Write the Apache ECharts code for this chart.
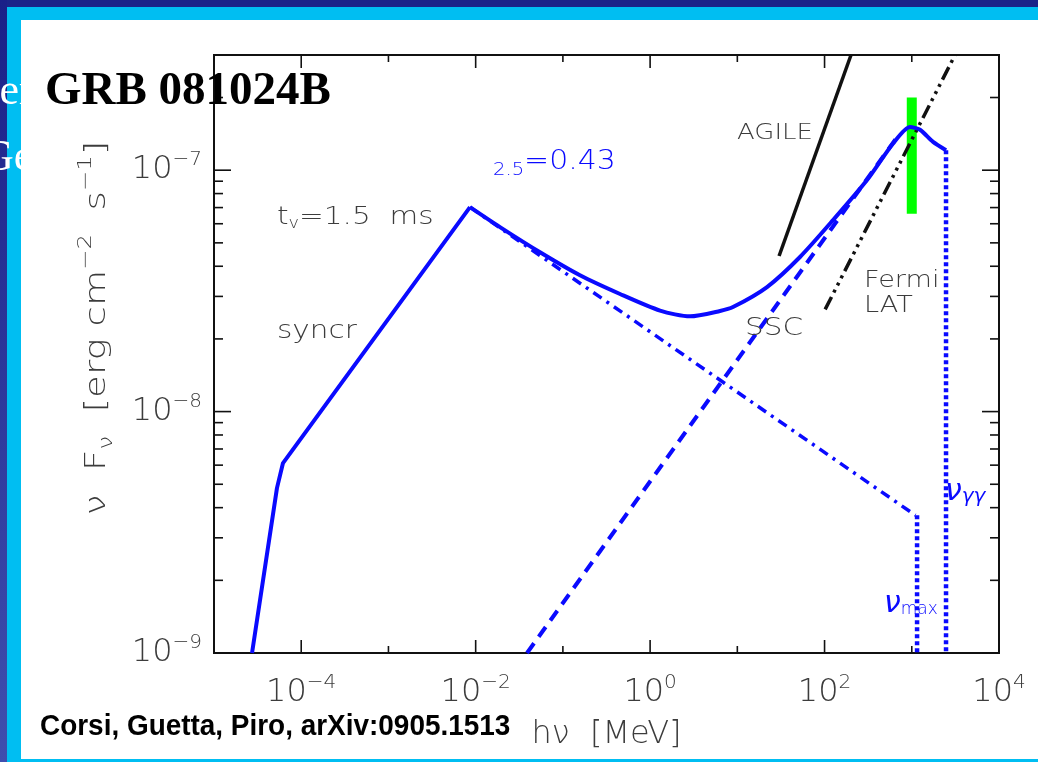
<!DOCTYPE html>
<html><head><meta charset="utf-8">
<script src="https://cdn.jsdelivr.net/npm/echarts@6/dist/echarts.min.js"></script>
<style>
html,body{margin:0;padding:0;width:1038px;height:762px;overflow:hidden;background:#fff;}
.b{position:absolute;}
#chart{position:absolute;left:0;top:0;width:1038px;height:762px;}
</style></head><body>
<div class="b" style="left:0;top:0;width:1038px;height:7px;background:#1b2488"></div>
<div class="b" style="left:0;top:0;width:7px;height:762px;background:linear-gradient(#1a2088,#3f4fae)"></div>
<div class="b" style="left:7px;top:7px;width:1031px;height:13px;background:#00bef2"></div>
<div class="b" style="left:7px;top:7px;width:14px;height:755px;background:#00bef2"></div>
<div class="b" style="left:7px;top:759px;width:1031px;height:3px;background:#00bef2"></div>
<div id="chart"></div>
<script>
// ---- data (hν in MeV, νFν in erg cm^-2 s^-1) ----
// total spectrum: rising synchrotron part (straight segments) ...
const riseE = [2.73e-5, 5.27e-5, 6.18e-5, 8.61e-3];
const riseF = [1e-9, 4.82e-9, 6.12e-9, 7.03e-8];
// ... and curved part from the synchrotron peak to the γγ cutoff
const curveE = [8.61e-3, 0.0190, 0.0547, 0.157, 0.452, 1.30, 2.87, 6.33, 8.92, 21.9, 52.3, 125, 307, 610, 955, 1242, 1754, 2470];
const curveF = [7.03e-8, 5.81e-8, 4.57e-8, 3.67e-8, 3.07e-8, 2.62e-8, 2.48e-8, 2.61e-8, 2.71e-8, 3.28e-8, 4.37e-8, 6.21e-8, 9.10e-8, 1.29e-7, 1.51e-7, 1.47e-7, 1.31e-7, 1.21e-7];
const syncE = [8.61e-3, 1100];
const syncF = [7.03e-8, 3.72e-9];
const sscE = [0.0388, 678];
const sscF = [1e-9, 1.37e-7];
const nuMaxE = [1150, 1150];
const nuMaxF = [3.72e-9, 1e-9];
const nuGGE = [2470, 2470];
const nuGGF = [1.21e-7, 1e-9];
const agileE = [30.1, 201];
const agileF = [4.41e-8, 3.0e-7];
const latE = [101.6, 3133];
const latF = [2.65e-8, 3.0e-7];
const lat1GeVE = [1000, 1000];
const lat1GeVF = [6.6e-8, 2.0e-7];
const xMinExp = -5, xMaxExp = 4;
const yMin = 1e-9, yMax = 3e-7;

const zip = (a, b) => a.map((v, i) => [v, b[i]]);

// tick descriptors
const xTicks = [];
for (let e = xMinExp; e <= xMaxExp; e++) xTicks.push([Math.pow(10, e), yMin, e % 2 === 0 ? 1 : 0]);
const yTicks = [];
for (let n = -9; n <= -7; n++) for (let m = 1; m <= 9; m++) {
  const v = m * Math.pow(10, n);
  if (v < yMax * 0.999) yTicks.push([Math.pow(10, xMinExp), v, m === 1 ? 1 : 0]);
}

const FONT = 'DejaVu Sans';
const GRAY = '#3c3c3c';
const BLUE = '#0a0aff';

function expLabel(v, evenOnly) {
  const l = Math.log10(v);
  const e = Math.round(l);
  if (Math.abs(l - e) > 0.01) return '';
  if (evenOnly && e % 2 !== 0) return '';
  return '{b|10}{s|' + (e < 0 ? '\u2212' : '') + Math.abs(e) + '}';
}
const labelRich = {
  b: { fontSize: 32, fontFamily: FONT, color: GRAY, lineHeight: 40, fontWeight: 200 },
  s: { fontSize: 20, fontFamily: FONT, color: GRAY, verticalAlign: 'top', lineHeight: 22, fontWeight: 200 }
};

function xTickItem(params, api) {
  const cs = params.coordSys;
  const p = api.coord([api.value(0), api.value(1)]);
  const len = api.value(2) ? 13 : 7;
  const st = { stroke: '#111', lineWidth: 1.6 };
  return { type: 'group', children: [
    { type: 'line', shape: { x1: p[0], y1: cs.y + cs.height, x2: p[0], y2: cs.y + cs.height - len }, style: st },
    { type: 'line', shape: { x1: p[0], y1: cs.y, x2: p[0], y2: cs.y + len }, style: st }
  ]};
}
function yTickItem(params, api) {
  const cs = params.coordSys;
  const p = api.coord([api.value(0), api.value(1)]);
  const len = api.value(2) ? 17 : 9;
  const st = { stroke: '#111', lineWidth: 1.6 };
  return { type: 'group', children: [
    { type: 'line', shape: { x1: cs.x, y1: p[1], x2: cs.x + len, y2: p[1] }, style: st },
    { type: 'line', shape: { x1: cs.x + cs.width, y1: p[1], x2: cs.x + cs.width - len, y2: p[1] }, style: st }
  ]};
}

function lineSeries(name, e, f, color, width, type, z, smooth) {
  return { name, type: 'line', data: zip(e, f), symbol: 'none', clip: true, z: z || 3, smooth: smooth || false,
    lineStyle: { color, width, type: type || 'solid', join: 'round', cap: 'butt' }, emphasis: { disabled: true } };
}

function anno(text, x, y, size, rich, color, sx) {
  return { type: 'text', x: x, y: y, scaleX: sx || 1.18, scaleY: 1, z: 50,
    style: { text, fontFamily: FONT, fontWeight: 200, fontSize: size, verticalAlign: 'middle', align: 'left', fill: color || GRAY, rich: rich || undefined } };
}

const yNameRich = {
  a: { fontSize: 29, fontFamily: FONT, color: GRAY, lineHeight: 40, fontWeight: 200 },
  sub: { fontSize: 19, fontFamily: FONT, color: GRAY, verticalAlign: 'bottom', lineHeight: 20, fontWeight: 200 },
  sup: { fontSize: 19, fontFamily: FONT, color: GRAY, verticalAlign: 'top', lineHeight: 20, fontWeight: 200 }
};

const chart = echarts.init(document.getElementById('chart'), null, { renderer: 'canvas' });
chart.setOption({
  animation: false,
  grid: { left: 214, top: 55, width: 785, height: 598, show: true, borderColor: '#111', borderWidth: 2, backgroundColor: 'transparent' },
  xAxis: {
    type: 'log', logBase: 10, min: Math.pow(10, xMinExp), max: Math.pow(10, xMaxExp),
    axisLine: { show: false }, axisTick: { show: false }, splitLine: { show: false }, minorTick: { show: false },
    axisLabel: { margin: 20, formatter: v => expLabel(v, true), rich: labelRich },
    name: '{a|h\u03bd  [MeV]}', nameLocation: 'middle', nameGap: 66,
    nameTextStyle: { padding: [0, 0, 0, 0], rich: { a: { fontSize: 32, fontFamily: FONT, color: GRAY, fontWeight: 200 } } }
  },
  yAxis: {
    type: 'log', logBase: 10, min: yMin, max: yMax,
    axisLine: { show: false }, axisTick: { show: false }, splitLine: { show: false }, minorTick: { show: false },
    axisLabel: { margin: 12, formatter: v => expLabel(v, false), rich: labelRich }
  },
  series: [
    { type: 'custom', name: 'xticks', data: xTicks, renderItem: xTickItem, silent: true, z: 10, clip: false },
    { type: 'custom', name: 'yticks', data: yTicks, renderItem: yTickItem, silent: true, z: 10, clip: false },
    lineSeries('LAT 1 GeV', lat1GeVE, lat1GeVF, '#00ff00', 10, 'solid', 1),
    lineSeries('AGILE', agileE, agileF, '#111', 3.5, 'solid', 4),
    lineSeries('Fermi LAT', latE, latF, '#111', 3.5, [14, 5, 3, 5, 3, 5, 3, 5], 4),
    lineSeries('syncr', syncE, syncF, BLUE, 3.5, [10, 6, 3, 6], 3),
    lineSeries('SSC', sscE, sscF, BLUE, 4, [12, 8], 3),
    lineSeries('nu_max', nuMaxE, nuMaxF, BLUE, 4.5, [4, 3], 3),
    lineSeries('nu_gg', nuGGE, nuGGF, BLUE, 4.5, [4, 3], 3),
    lineSeries('total rise', riseE, riseF, BLUE, 4, 'solid', 5),
    lineSeries('total', curveE, curveF, BLUE, 4, 'solid', 5, 0.25)
  ],
  graphic: [
    { type: 'text', x: -42, y: 92, z: 60, style: { text: 'ener', fontFamily: 'Liberation Serif', fontSize: 44, fill: '#fff', verticalAlign: 'middle' } },
    { type: 'text', x: -18, y: 158, z: 60, style: { text: 'Ge', fontFamily: 'Liberation Serif', fontSize: 44, fill: '#fff', verticalAlign: 'middle' } },
    { type: 'text', x: 45, y: 92, z: 70, style: { text: 'GRB 081024B', fontFamily: 'Liberation Serif', fontWeight: 'bold', fontSize: 47, fill: '#000', verticalAlign: 'middle' } },
    { type: 'text', x: 97, y: 328, rotation: Math.PI / 2, scaleX: 1.28, z: 50,
      style: { text: '{a|\u03bd  F}{sub|\u03bd}{a|  [erg cm}{sup|\u22122}{a|  s}{sup|\u22121}{a|]}', rich: yNameRich,
        align: 'center', verticalAlign: 'middle', fontFamily: FONT, fontSize: 29, fill: GRAY } },
    anno('{a|t}{sub|v}{a|=1.5  ms}', 277, 217, 25, {
      a: { fontSize: 25, fontFamily: FONT, color: GRAY, lineHeight: 30, fontWeight: 200 },
      sub: { fontSize: 15, fontFamily: FONT, color: GRAY, verticalAlign: 'bottom', lineHeight: 14, fontWeight: 200 } }),
    anno('syncr', 277, 331, 25),
    anno('AGILE', 737, 133, 22),
    anno('SSC', 745, 328, 25),
    anno('Fermi', 864, 281, 23),
    anno('LAT', 864, 306, 23),
    anno('{sub|2.5}{a|=0.43}', 493, 162, 26, {
      a: { fontSize: 26, fontFamily: FONT, color: BLUE, lineHeight: 34, fontWeight: 200 },
      sub: { fontSize: 17, fontFamily: FONT, color: BLUE, verticalAlign: 'bottom', lineHeight: 18, fontWeight: 200 } }, BLUE, 1.15),
    anno('{a|\u03bd}{sub|\u03b3\u03b3}', 945, 492, 28, {
      a: { fontSize: 30, fontFamily: FONT, color: BLUE, fontStyle: 'italic', lineHeight: 30, fontWeight: 200 },
      sub: { fontSize: 20, fontFamily: FONT, color: BLUE, fontStyle: 'italic', verticalAlign: 'bottom', lineHeight: 20, fontWeight: 200 } }, BLUE, 1.0),
    anno('{a|\u03bd}{sub|max}', 884, 604, 28, {
      a: { fontSize: 30, fontFamily: FONT, color: BLUE, fontStyle: 'italic', lineHeight: 28, fontWeight: 200 },
      sub: { fontSize: 17, fontFamily: FONT, color: BLUE, verticalAlign: 'bottom', lineHeight: 16, fontWeight: 200 } }, BLUE, 1.0),
    { type: 'text', x: 40, y: 727, scaleX: 0.963, z: 60, style: { text: 'Corsi, Guetta, Piro, arXiv:0905.1513', fontFamily: 'Liberation Sans', fontWeight: 'bold', fontSize: 29, fill: '#000', verticalAlign: 'middle' } }
  ]
});
</script>
</body></html>
